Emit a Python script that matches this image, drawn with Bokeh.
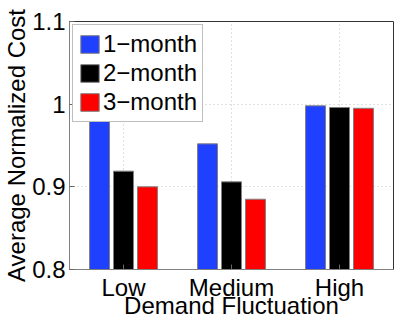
from bokeh.plotting import figure
from bokeh.models import FactorRange, Range1d, FixedTicker, Legend, LegendItem, ColumnDataSource
from bokeh.transform import dodge
from bokeh.embed import file_html
from bokeh.resources import INLINE

categories = ["Low", "Medium", "High"]
series_names = ["1\u2212month", "2\u2212month", "3\u2212month"]
one_month = [0.983, 0.952, 0.998]
two_month = [0.919, 0.906, 0.996]
three_month = [0.900, 0.885, 0.995]
y_ticks = [0.8, 0.9, 1.0, 1.1]
y_tick_labels = ["0.8", "0.9", "1", "1.1"]
x_title = "Demand Fluctuation"
y_title = "Average Normalized Cost"

colors = ["#2040ff", "#000000", "#ff0000"]
FONT = "Liberation Sans"

src = ColumnDataSource(dict(cat=categories, s1=one_month, s2=two_month, s3=three_month))

W, H = 399, 323
p = figure(width=W, height=H, x_range=FactorRange(*categories, range_padding=0),
           y_range=Range1d(0.8, 1.1), output_backend="svg", toolbar_location=None,
           min_border_left=69, min_border_right=6, min_border_top=21, min_border_bottom=54)

renderers = []
for col, off, c in zip(["s1", "s2", "s3"], [-0.222, 0.0, 0.222], colors):
    r = p.vbar(x=dodge("cat", off, range=p.x_range), top=col, bottom=0.8, width=0.185,
               source=src, fill_color=c, line_color="#808080", line_width=1)
    renderers.append(r)

p.outline_line_color = "#333333"
p.outline_line_width = 1

p.yaxis.ticker = FixedTicker(ticks=y_ticks)
p.yaxis.major_label_overrides = {t: l for t, l in zip(y_ticks, y_tick_labels)}
for ax in (p.xaxis[0], p.yaxis[0]):
    ax.major_label_text_font = FONT
    ax.major_label_text_font_size = "24px"
    ax.major_label_text_color = "#000000"
    ax.axis_label_text_font = FONT
    ax.axis_label_text_font_size = "24px"
    ax.axis_label_text_font_style = "normal"
    ax.axis_label_text_color = "#000000"
    ax.major_tick_in = 5
    ax.major_tick_out = 0
    ax.minor_tick_line_color = None
    ax.axis_line_color = "#808080"
    ax.major_tick_line_color = "#666666"
p.xaxis.axis_label = x_title
p.yaxis.axis_label = y_title
p.yaxis.major_label_standoff = 4
p.yaxis.axis_label_standoff = -1
p.xaxis.major_label_standoff = 4
p.xaxis.axis_label_standoff = -12

p.xgrid.grid_line_color = "#c0c0c0"
p.xgrid.grid_line_dash = "1 3"
p.ygrid.grid_line_color = "#c0c0c0"
p.ygrid.grid_line_dash = "1 3"
p.ygrid.ticker = FixedTicker(ticks=y_ticks)

legend = Legend(items=[LegendItem(label=n, renderers=[r]) for n, r in zip(series_names, renderers)],
                location="top_left", margin=3, padding=5, spacing=1,
                glyph_width=23, glyph_height=22, label_height=22, label_standoff=2,
                label_text_font=FONT, label_text_font_size="24px", label_text_color="#000000",
                border_line_color="#808080", border_line_width=1,
                background_fill_alpha=1.0)
p.add_layout(legend)

open("out.html", "w").write(file_html(p, INLINE))
